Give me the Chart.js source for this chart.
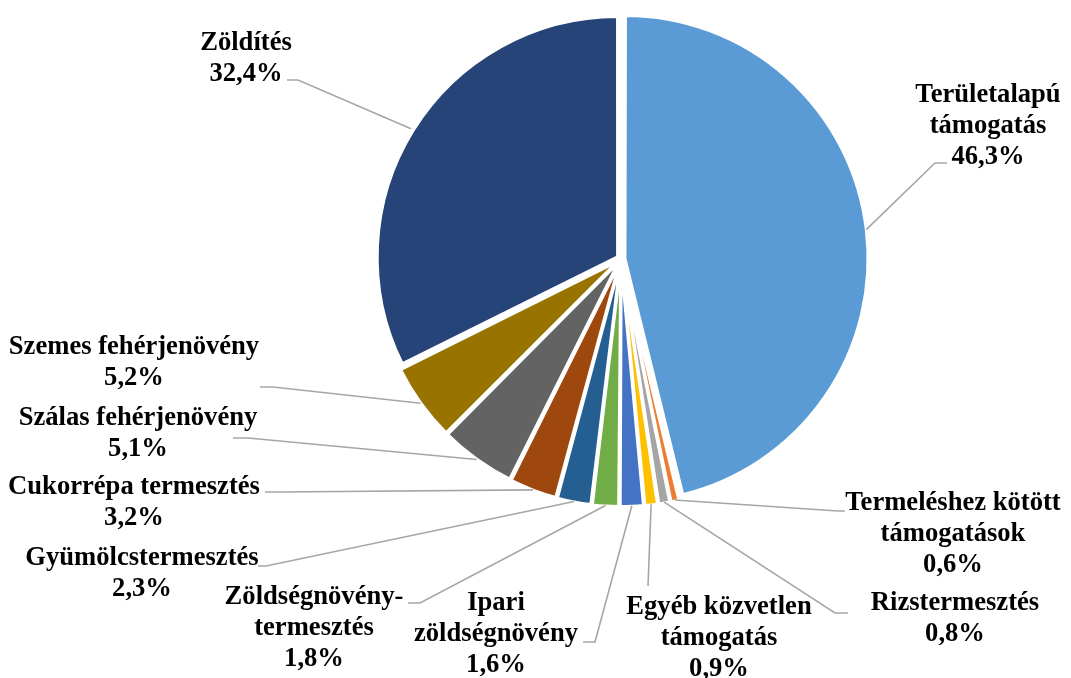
<!DOCTYPE html>
<html>
<head>
<meta charset="utf-8">
<script src="https://cdn.jsdelivr.net/npm/chart.js@4.4.1/dist/chart.umd.min.js"></script>
<style>
  html, body { margin: 0; padding: 0; background: #fff; }
  #wrap { width: 1071px; height: 678px; }
</style>
</head>
<body>
<div id="wrap"><canvas id="pieChart" width="1071" height="678"></canvas></div>
<script>
// Kategóriák (sorokra bontva) és részesedések (%)
const kategoriak = [
  ['Területalapú', 'támogatás'],
  ['Termeléshez kötött', 'támogatások'],
  ['Rizstermesztés'],
  ['Egyéb közvetlen', 'támogatás'],
  ['Ipari', 'zöldségnövény'],
  ['Zöldségnövény-', 'termesztés'],
  ['Gyümölcstermesztés'],
  ['Cukorrépa termesztés'],
  ['Szálas fehérjenövény'],
  ['Szemes fehérjenövény'],
  ['Zöldítés']
];
const reszesedes = [46.3, 0.6, 0.8, 0.9, 1.6, 1.8, 2.3, 3.2, 5.1, 5.2, 32.4];
const szinek = ['#5B9BD5', '#ED7D31', '#A5A5A5', '#FFC000', '#4472C4', '#70AD47',
                '#255E91', '#9E480E', '#636363', '#997300', '#264478'];

// Címkék elhelyezése: szöveg közepe (x, első sor y), törésPont, végPont
const cimkeHely = [
  [988, 95], [953, 503], [955, 603], [719, 607], [496, 603], [314, 597],
  [142, 558], [134, 487], [138, 418], [134, 347], [246, 43]
];
const toresPont = [
  [935, 163], [838, 511], [835, 613], [648, 586], [595, 642], [420, 603],
  [266, 566], [280, 492], [248, 438], [273, 387], [298, 80]
];
const vegPont = [
  [947, 163], [845, 511], [848, 613], [648, 586], [583, 642], [408, 603],
  [258, 566], [265, 492], [233, 438], [260, 387], [287, 80]
];

const formatSzazalek = v => v.toFixed(1).replace('.', ',') + '%';

// Plugin a vezetővonalakhoz és címkékhez
const cimkePlugin = {
  id: 'cimkek',
  afterDatasetsDraw(chart) {
    const ctx = chart.ctx;
    const meta = chart.getDatasetMeta(0);
    ctx.save();
    meta.data.forEach((arc, i) => {
      const p = arc.getProps(['x', 'y', 'startAngle', 'endAngle', 'outerRadius']);
      const mid = (p.startAngle + p.endAngle) / 2;
      // Chart.js az offset negyedével tolja el a szeletet
      const off = (arc.options.offset || 0) / 4;
      const r = p.outerRadius + off + 3;
      const sx = p.x + Math.cos(mid) * r;
      const sy = p.y + Math.sin(mid) * r;

      ctx.strokeStyle = '#A6A6A6';
      ctx.lineWidth = 1.6;
      ctx.beginPath();
      ctx.moveTo(sx, sy);
      ctx.lineTo(toresPont[i][0], toresPont[i][1]);
      ctx.lineTo(vegPont[i][0], vegPont[i][1]);
      ctx.stroke();

      const sorok = [...kategoriak[i], formatSzazalek(reszesedes[i])];
      ctx.fillStyle = '#000';
      ctx.font = 'bold 26.6px "Liberation Serif", "Times New Roman", serif';
      ctx.textAlign = 'center';
      ctx.textBaseline = 'middle';
      sorok.forEach((s, j) => {
        ctx.fillText(s, cimkeHely[i][0], cimkeHely[i][1] + j * 31);
      });
    });
    ctx.restore();
  }
};

const ctxPie = document.getElementById('pieChart').getContext('2d');
new Chart(ctxPie, {
  type: 'pie',
  data: {
    labels: kategoriak,
    datasets: [{
      data: reszesedes,
      backgroundColor: szinek,
      borderColor: '#ffffff',
      borderWidth: 3,
      offset: 16,
      radius: 240
    }]
  },
  options: {
    responsive: false,
    animation: false,
    layout: { padding: { left: 376, right: 205, top: 14, bottom: 174 } },
    plugins: {
      legend: { display: false },
      tooltip: { enabled: false }
    }
  },
  plugins: [cimkePlugin]
});
</script>
</body>
</html>
